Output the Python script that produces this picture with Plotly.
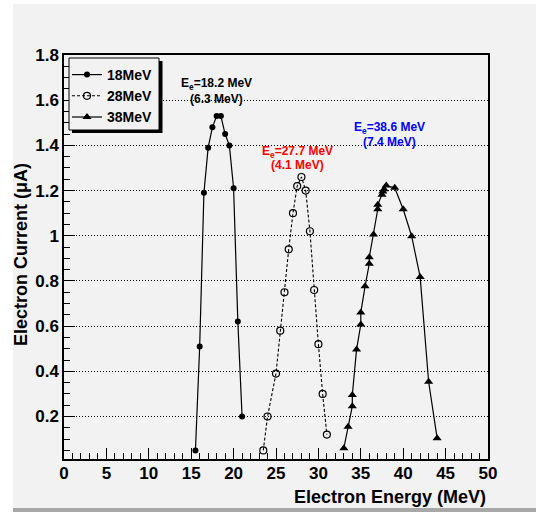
import plotly.graph_objects as go

# ---------------- data ----------------
series_names = ["18MeV", "28MeV", "38MeV"]

e18 = [15.5, 16.0, 16.5, 17.0, 17.5, 18.0, 18.5, 19.0, 19.5, 20.0, 20.5, 21.0]
i18 = [0.05, 0.51, 1.19, 1.39, 1.48, 1.53, 1.53, 1.45, 1.40, 1.21, 0.62, 0.20]

e28 = [23.5, 24.0, 25.0, 25.5, 26.0, 26.5, 27.0, 27.5, 28.0, 28.5, 29.0, 29.5, 30.0, 30.5, 31.0]
i28 = [0.05, 0.20, 0.39, 0.58, 0.75, 0.94, 1.10, 1.22, 1.26, 1.20, 1.02, 0.76, 0.52, 0.30, 0.12]

e38 = [33.0, 33.5, 34.0, 34.0, 34.5, 35.0, 35.0, 35.5, 36.0, 36.0, 36.5, 37.0, 37.0,
       37.5, 37.6, 37.75, 38.0, 39.0, 40.0, 41.0, 42.0, 43.0, 44.0]
i38 = [0.06, 0.155, 0.246, 0.295, 0.497, 0.607, 0.66, 0.776, 0.876, 0.905, 1.006, 1.117, 1.137,
       1.181, 1.196, 1.206, 1.222, 1.212, 1.117, 0.998, 0.817, 0.354, 0.104]

peak_labels = [
    ("E<sub>e</sub>=18.2 MeV", "(6.3 MeV)", 18.04, 1.672, 1.606, "#000000"),
    ("E<sub>e</sub>=27.7 MeV", "(4.1 MeV)", 27.48, 1.371, 1.313, "#ff0000"),
    ("E<sub>e</sub>=38.6 MeV", "(7.4 MeV)", 38.44, 1.477, 1.415, "#0000ff"),
]

x_title = "Electron Energy (MeV)"
y_title = "Electron Current (\u03bcA)"

# ---------------- layout geometry ----------------
W, H = 536, 512
ML, MR, MT, MB = 64, 48, 55, 53
PW, PH = W - ML - MR, H - MT - MB
BG = "#f2f2f2"
FONT = "Liberation Sans, Arial, sans-serif"


def px(x):
    return (x - ML) / PW


def py(y):
    return (H - MB - y) / PH


fig = go.Figure()

fig.add_trace(go.Scatter(
    x=e18, y=i18, name=series_names[0], mode="lines+markers",
    line=dict(color="black", width=1.2),
    marker=dict(symbol="circle", size=6, color="black"),
))
fig.add_trace(go.Scatter(
    x=e28, y=i28, name=series_names[1], mode="lines+markers",
    line=dict(color="black", width=1.1, dash="3px,2px"),
    marker=dict(symbol="circle-open", size=7, color="black", line=dict(width=1.2)),
))
fig.add_trace(go.Scatter(
    x=e38, y=i38, name=series_names[2], mode="lines+markers",
    line=dict(color="black", width=1.2),
    marker=dict(symbol="triangle-up", size=8, color="black"),
))

shapes = [
    # grey canvas
    dict(type="rect", xref="paper", yref="paper", layer="below",
         x0=px(13), x1=px(536), y0=py(508), y1=py(4),
         fillcolor=BG, line=dict(width=0)),
    # bottom bevel
    dict(type="rect", xref="paper", yref="paper", layer="below",
         x0=px(13), x1=px(536), y0=py(512), y1=py(508),
         fillcolor="#a8a8a8", line=dict(width=0)),
    # legend shadow
    dict(type="rect", xref="paper", yref="paper", layer="above",
         x0=px(72), x1=px(162.5), y0=py(133), y1=py(61),
         fillcolor="black", line=dict(width=0)),
    # legend box
    dict(type="rect", xref="paper", yref="paper", layer="above",
         x0=px(69), x1=px(159), y0=py(130), y1=py(58),
         fillcolor=BG, line=dict(color="black", width=1)),
]

annotations = []
for top, bottom, xv, y1, y2, col in peak_labels:
    annotations.append(dict(x=xv, y=y1, xref="x", yref="y", text=top, showarrow=False,
                            font=dict(family=FONT, size=12, color=col, weight="bold"),
                            xanchor="center", yanchor="middle"))
    annotations.append(dict(x=xv, y=y2, xref="x", yref="y", text=bottom, showarrow=False,
                            font=dict(family=FONT, size=12, color=col, weight="bold"),
                            xanchor="center", yanchor="middle"))

annotations.append(dict(x=1.0, y=py(497), xref="paper", yref="paper", text=x_title,
                        showarrow=False, xanchor="right", yanchor="middle",
                        font=dict(family=FONT, size=18, color="black", weight="bold")))
annotations.append(dict(x=px(21), y=py(255), xref="paper", yref="paper", text=y_title,
                        showarrow=False, xanchor="center", yanchor="middle", textangle=-90,
                        font=dict(family=FONT, size=18, color="black", weight="bold")))

fig.update_layout(
    width=W, height=H,
    margin=dict(l=ML, r=MR, t=MT, b=MB, pad=0),
    paper_bgcolor="white",
    plot_bgcolor="rgba(0,0,0,0)",
    font=dict(family=FONT, color="black"),
    shapes=shapes,
    annotations=annotations,
    showlegend=True,
    legend=dict(
        x=px(67), y=py(59), xanchor="left", yanchor="top",
        bgcolor="rgba(0,0,0,0)", borderwidth=0,
        font=dict(family=FONT, size=14, color="black", weight="bold"),
        itemwidth=30, tracegroupgap=0,
    ),
    xaxis=dict(
        range=[0, 50], tick0=0, dtick=5,
        showline=True, linecolor="black", linewidth=1.5, mirror=True,
        ticks="inside", ticklen=11, tickwidth=1, tickcolor="black",
        minor=dict(dtick=1, ticks="inside", ticklen=6, tickwidth=1, tickcolor="black", showgrid=False),
        showgrid=False, zeroline=False,
        ticklabelstandoff=-2,
        tickfont=dict(family=FONT, size=17, color="black", weight="bold"),
    ),
    yaxis=dict(
        range=[0.012, 1.8], tick0=0, dtick=0.2,
        showline=True, linecolor="black", linewidth=1.5, mirror=True,
        ticks="inside", ticklen=11, tickwidth=1, tickcolor="black",
        minor=dict(dtick=0.05, ticks="inside", ticklen=6, tickwidth=1, tickcolor="black", showgrid=False),
        showgrid=True, gridcolor="black", gridwidth=1, griddash="1px,2px",
        zeroline=False,
        tickfont=dict(family=FONT, size=17, color="black", weight="bold"),
    ),
)

fig.write_html("out.html")
